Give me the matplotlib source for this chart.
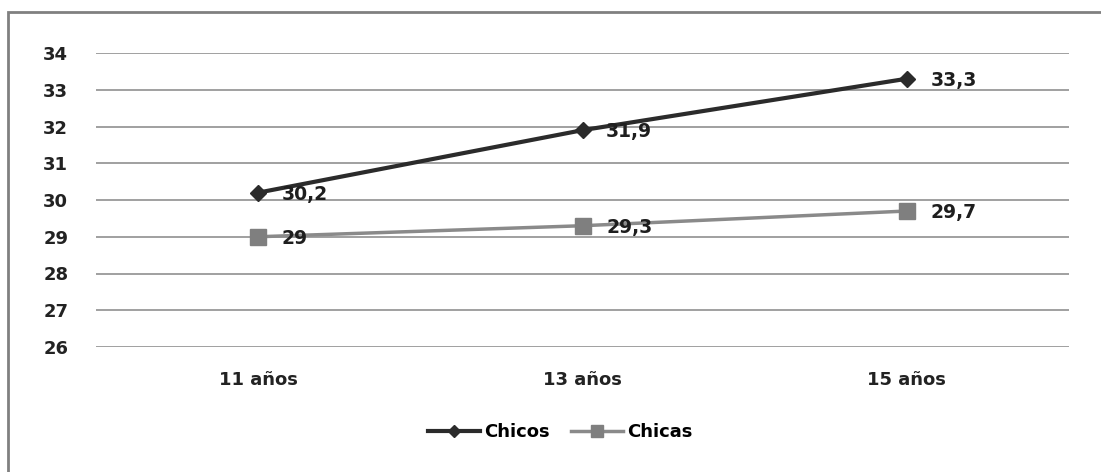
import matplotlib
matplotlib.use("Agg")
import matplotlib.pyplot as plt
from matplotlib.patches import Rectangle

# data
categories = ["11 años", "13 años", "15 años"]
chicos = [30.2, 31.9, 33.3]
chicas = [29.0, 29.3, 29.7]
y_ticks = [26, 27, 28, 29, 30, 31, 32, 33, 34]

plt.rcParams['font.family'] = ['DejaVu Sans']
plt.rcParams['font.weight'] = 'bold'

fig = plt.figure(figsize=(11.01, 4.72), dpi=100)
ax = fig.add_axes([96 / 1101, 1 - 347 / 472, (1069 - 96) / 1101, (347 - 53) / 472])

x = list(range(len(categories)))

ax.plot(x, chicos, color='#2b2b2b', lw=3, marker='D', ms=8,
        label='Chicos', zorder=4)
ax.plot(x, chicas, color='#8a8a8a', lw=2.5, marker='s', ms=11,
        mfc='#7f7f7f', mec='#7f7f7f', label='Chicas', zorder=3)

def fmt(v):
    s = f"{v:.1f}".replace('.', ',')
    return s[:-2] if s.endswith(',0') else s

# data labels, drawn over the lines like the original
for series in (chicos, chicas):
    for xi, v in zip(x, series):
        ax.annotate(fmt(v), (xi, v), xytext=(17, -1), textcoords='offset points',
                    ha='left', va='center', fontsize=13.5, color='#1e1e1e',
                    zorder=5)

ax.set_xlim(-0.5, len(categories) - 0.5)
ax.set_ylim(26, 34)
ax.set_yticks(y_ticks)
ax.set_xticks(x)
ax.set_xticklabels(categories)
ax.tick_params(length=0, labelsize=13, colors='#222222')
ax.tick_params(axis='x', pad=17)
ax.tick_params(axis='y', pad=38)
for lbl in ax.get_yticklabels():
    lbl.set_ha('left')

ax.grid(axis='y', color='#a0a0a0', lw=1.4)
ax.set_axisbelow(True)
for s in ax.spines.values():
    s.set_visible(False)

fig.legend(loc='center', bbox_to_anchor=(560 / 1101, 1 - 432 / 472), ncol=2,
           frameon=False, fontsize=13, handlelength=2.9, columnspacing=1.2,
           handletextpad=0.2, markerscale=0.75)

# outer chart border
fig.patches.append(Rectangle((8 / 1101, -0.1), 1.2, 1 - 12 / 472 + 0.1,
                             transform=fig.transFigure, fill=False,
                             ec='#808080', lw=2))

fig.savefig("out.png", dpi=100)
